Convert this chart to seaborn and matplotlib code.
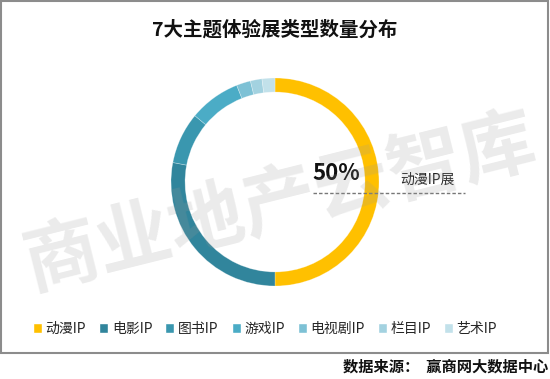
import matplotlib
matplotlib.use("Agg")
import matplotlib.pyplot as plt
import seaborn as sns
from matplotlib.patches import Rectangle

# values (share of exhibitions, %)
categories = ["动漫IP", "电影IP", "图书IP", "游戏IP", "电视剧IP", "栏目IP", "艺术IP"]
shares = [50, 28, 8, 8, 2.2, 1.8, 2]
colors = ["#FFC000", "#31859C", "#3A97AF", "#4BACC6", "#7DC1D5", "#A3D2E0", "#C2E1EA"]

title = "7大主题体验展类型数量分布"
source = "数据来源：  赢商网大数据中心"
watermark = "商业地产云智库"

sns.set_theme(style="white")
plt.rcParams['font.family'] = ['Noto Sans CJK SC', 'DejaVu Sans']

fig = plt.figure(figsize=(5.5, 3.79), dpi=100)

# frame around the chart area
fig.patches.append(Rectangle((0.002, 0.068), 0.995, 0.929, transform=fig.transFigure,
                             fill=False, edgecolor="#8c8c8c", linewidth=1.5))

fig.text(0.5, 0.92, title, ha="center", va="center", fontsize=14, fontweight="bold",
         color="#111111")

ax = fig.add_axes([(275 - 104) / 550, (379 - 182 - 104) / 379, 208 / 550, 208 / 379])
wedges, _ = ax.pie(shares, colors=colors, startangle=90, counterclock=False, radius=1,
                   wedgeprops=dict(width=0.135, edgecolor=(1, 1, 1, 0.35), linewidth=0.5))
ax.set_xlim(-1, 1)
ax.set_ylim(-1, 1)
ax.set_aspect("equal")
ax.axis("off")

# label for the biggest share
fig.text(312 / 550, 1 - 173 / 379, f"{shares[0]}%", ha="left", va="center", fontsize=16,
         fontweight="bold", color="#111111")
fig.text(400 / 550, 1 - 180 / 379, "动漫IP展", ha="left", va="center", fontsize=10,
         color="#222222")
fig.lines.append(plt.Line2D([313 / 550, 465 / 550], [1 - 192.5 / 379, 1 - 192.5 / 379],
                            transform=fig.transFigure, color="#777777", linewidth=1,
                            linestyle=(0, (2.5, 1.5))))

# watermark
fig.text(0.51, 0.465, watermark, ha="center", va="center", fontsize=54, fontweight="bold",
         rotation=14, color="#9a9a9a", alpha=0.2, zorder=10)

handles = [Rectangle((0, 0), 1, 1, facecolor=c) for c in colors]
fig.legend(handles, categories, loc="center", bbox_to_anchor=(0.482, 1 - 329 / 379), ncol=7,
           frameon=False, fontsize=10, handlelength=0.65, handleheight=0.65,
           handletextpad=0.25, columnspacing=0.95)

fig.text(0.997, 1 - 367 / 379, source, ha="right", va="center", fontsize=11,
         fontweight="bold", color="#111111")

fig.savefig("out.png", dpi=100)
